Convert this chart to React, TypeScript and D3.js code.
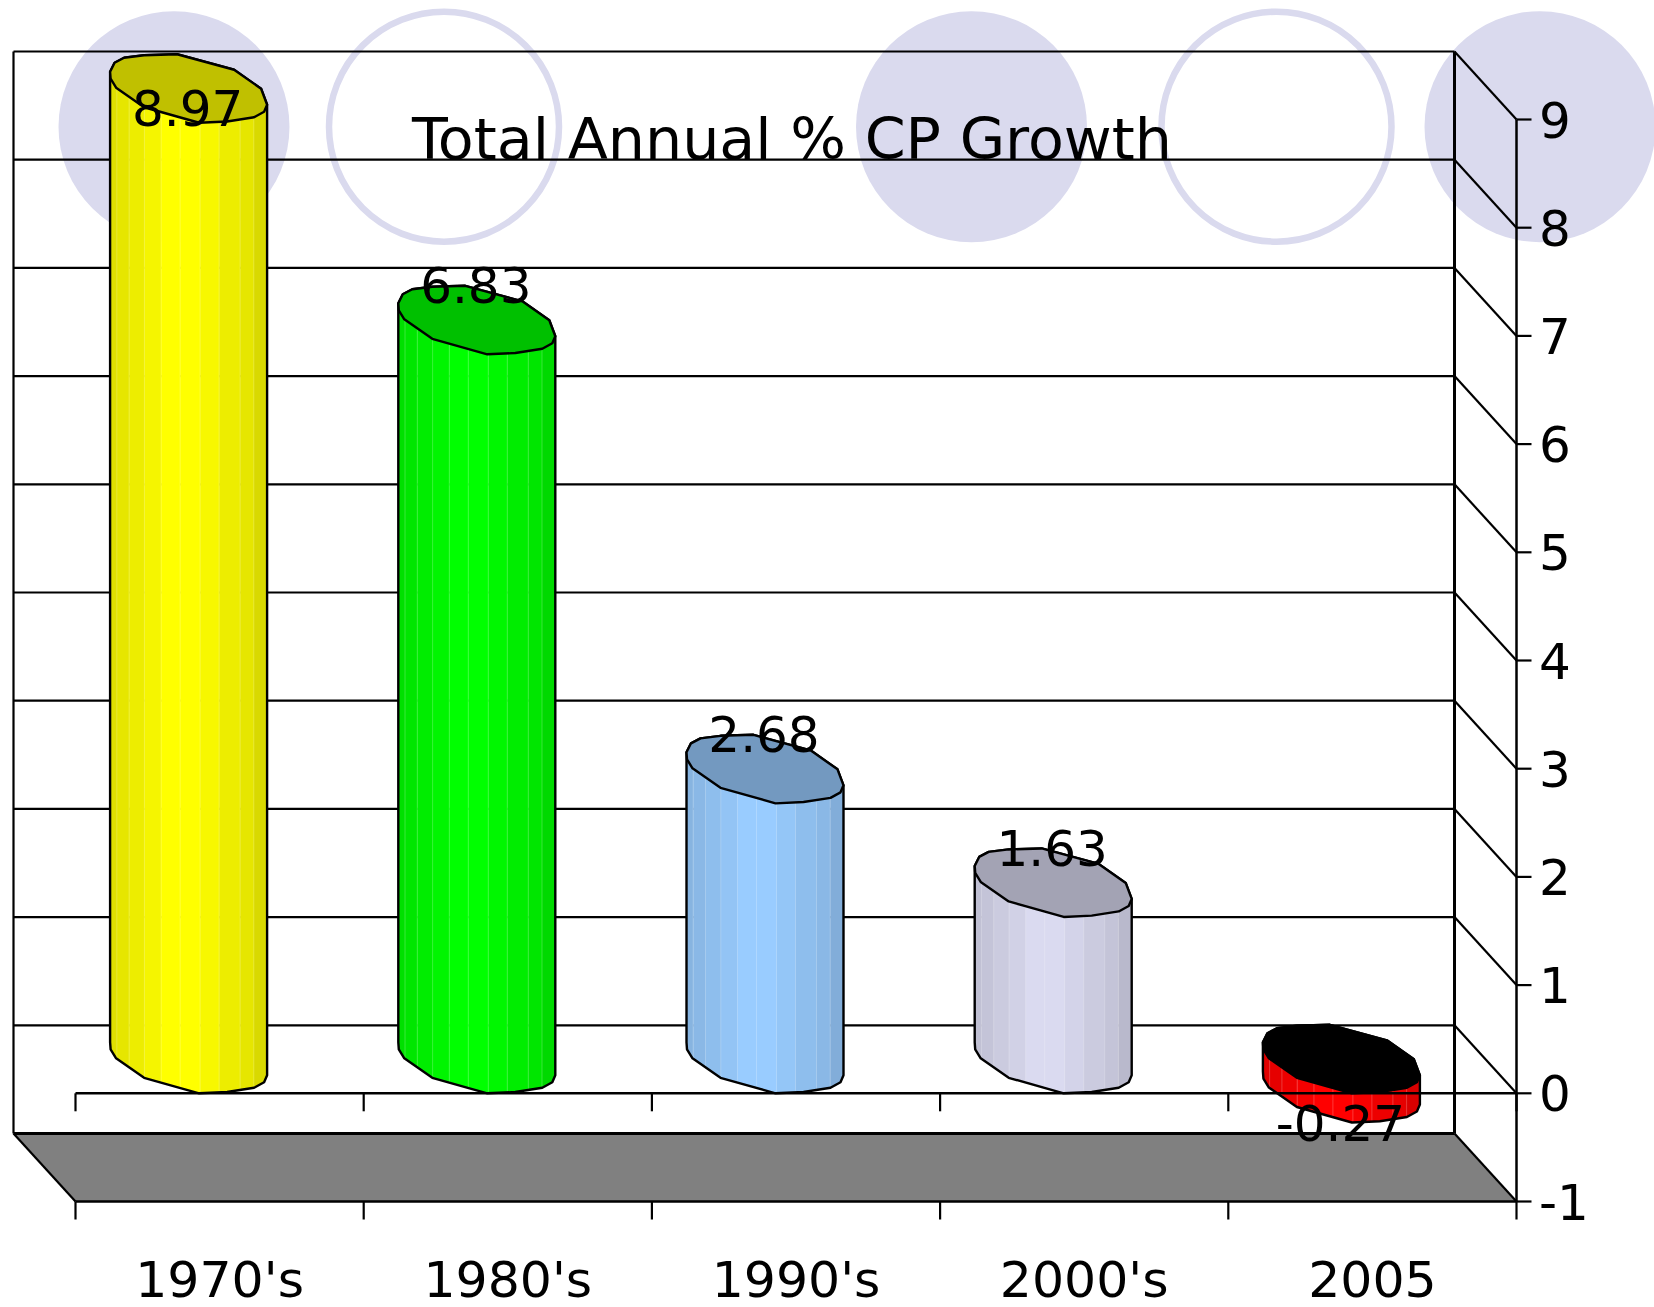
import React from 'react';
import * as d3 from 'd3';

const title = 'Total Annual % CP Growth';
const categories = ["1970's", "1980's", "1990's", "2000's", '2005'];
const growth = [8.97, 6.83, 2.68, 1.63, -0.27];
const labels = ['8.97', '6.83', '2.68', '1.63', '-0.27'];
const barColors = ['#ffff00', '#00ff00', '#99ccff', '#dadaf0', '#ff0000'];
const capColors = ['#c0c000', '#00c000', '#7399c0', '#a3a3b4', '#000000'];
const yTicks = [-1, 0, 1, 2, 3, 4, 5, 6, 7, 8, 9];

const W = 1654, H = 1307;
const DX = 62, DY = 68;
const FONT = '"DejaVu Sans", sans-serif';
const BAR_W = 157;
const decor = [
  { cx: 174, filled: true }, { cx: 444, filled: false }, { cx: 971.5, filled: true },
  { cx: 1276.5, filled: false }, { cx: 1540, filled: true },
];
// normalised outline of the bar's end cap: [x from left edge, y above front-most point]
const cap: [number, number][] = [
  [0, -51], [4.5, -60], [14, -65], [34, -67.5], [67, -68.5], [124, -53], [151, -34], [157, -18],
  [154, -11], [144, -5.5], [117, -1.3], [89, 0], [34, -15.5], [6, -35], [0.5, -44],
];
const stripEdges = [0, 6.7, 19, 34.3, 51, 70, 90, 109, 130, 143.7, 157];
const stripShade = [0.88, 0.9, 0.93, 0.96, 1, 1, 0.97, 0.93, 0.9, 0.85];

const x = d3.scaleBand<string>().domain(categories).range([75.5, 1516.5]);
const y = d3.scaleLinear().domain([-1, 9]).range([1201.5, 119.5]);
const line = d3.line();

function shade(c: string, k: number) {
  const r = d3.rgb(c);
  return d3.rgb(r.r * k, r.g * k, r.b * k).formatHex();
}

function Bar({ i }: { i: number }) {
  const v = growth[i];
  const left = x(categories[i])! + x.bandwidth() / 2 - DX / 2 - BAR_W / 2;
  const top = y(Math.max(v, 0));
  const base = y(Math.min(v, 0));
  const upper = cap.slice(0, 8).map(([a, b]) => [left + a, top + b] as [number, number]);
  const lower = cap.slice(7).concat([cap[0]]).map(([a, b]) => [left + a, base + b] as [number, number]);
  const body = line([...upper, ...lower])! + 'Z';
  const capPath = line(cap.map(([a, b]) => [left + a, top + b] as [number, number]))! + 'Z';
  const id = `body${i}`;
  return (
    <g>
      <clipPath id={id}><path d={body} /></clipPath>
      <g clipPath={`url(#${id})`}>
        {stripShade.map((k, s) => (
          <rect key={s} x={left + stripEdges[s]} y={top - 80} width={stripEdges[s + 1] - stripEdges[s] + 0.5}
            height={base - top + 90} fill={shade(barColors[i], k)} />
        ))}
        {stripEdges.slice(1, -1).map((e, s) => (
          <line key={s} x1={left + e} x2={left + e} y1={top - 80} y2={base + 10} stroke="#fff" strokeOpacity={0.22} strokeWidth={1} />
        ))}
      </g>
      <path d={body} fill="none" stroke="#000" strokeWidth={2.4} strokeLinejoin="round" />
      <path d={capPath} fill={capColors[i]} stroke="#000" strokeWidth={2.4} strokeLinejoin="round" />
    </g>
  );
}

export default function App() {
  const x0 = 75.5, x1 = 1516.5;
  const wallL = x0 - DX, wallR = x1 - DX;
  const cats = x.domain();
  const tickXs = [...cats.map((c) => x(c)!), x1];
  return (
    <svg width={W} height={H} viewBox={`0 0 ${W} ${H}`} style={{ position: 'absolute', left: 0, top: 0, background: '#fff' }}>
      {decor.map((d) => (
        <circle key={d.cx} cx={d.cx} cy={126.7} r={d.filled ? 115.5 : 115} fill={d.filled ? '#dadaee' : 'none'}
          stroke={d.filled ? 'none' : '#dadaee'} strokeWidth={6.5} />
      ))}
      <polygon points={[[wallL, y(-1) - DY], [wallR, y(-1) - DY], [x1, y(-1)], [x0, y(-1)]].join(' ')} fill="#808080" />
      {yTicks.map((t) => (
        <g key={t} stroke="#000">
          <line x1={wallL} x2={wallR} y1={y(t) - DY} y2={y(t) - DY} strokeWidth={t === -1 ? 3 : 2.2} />
          <line x1={wallR} x2={x1} y1={y(t) - DY} y2={y(t)} strokeWidth={2.2} />
          <line x1={x1} x2={x1 + 15} y1={y(t)} y2={y(t)} strokeWidth={2.2} />
        </g>
      ))}
      <line x1={wallL} x2={wallL} y1={y(9) - DY} y2={y(-1) - DY} stroke="#000" strokeWidth={2.2} />
      <line x1={wallR} x2={wallR} y1={y(9) - DY} y2={y(-1) - DY} stroke="#000" strokeWidth={3} />
      <line x1={wallL} x2={x0} y1={y(-1) - DY} y2={y(-1)} stroke="#000" strokeWidth={2.2} />
      {growth.map((_, i) => <Bar key={i} i={i} />)}
      <line x1={x0} x2={x1} y1={y(0)} y2={y(0)} stroke="#000" strokeWidth={2.4} />
      <line x1={x0} x2={x1} y1={y(-1)} y2={y(-1)} stroke="#000" strokeWidth={2.4} />
      <line x1={x1} x2={x1} y1={y(9)} y2={y(-1)} stroke="#000" strokeWidth={2.5} />
      {tickXs.map((tx) => (
        <g key={tx} stroke="#000" strokeWidth={2.2}>
          <line x1={tx} x2={tx} y1={y(0)} y2={y(0) + 18} />
          <line x1={tx} x2={tx} y1={y(-1)} y2={y(-1) + 18} />
        </g>
      ))}
      <g fontFamily={FONT} fontSize={50} fill="#000">
        {yTicks.map((t) => (
          <text key={t} x={1539} y={y(t) + 18}>{t}</text>
        ))}
        {categories.map((c) => (
          <text key={c} x={x(c)! + x.bandwidth() / 2} y={1297} textAnchor="middle" fontSize={50.5}>{c}</text>
        ))}
        {growth.map((v, i) => (
          <text key={i} x={x(categories[i])! + x.bandwidth() / 2 - DX / 2 - 1} textAnchor="middle"
            y={v < 0 ? y(v) + 18 : Math.max(126, y(v) - 51)}>{labels[i]}</text>
        ))}
        <text x={412} y={159} fontSize={57} textLength={760} lengthAdjust="spacingAndGlyphs">{title}</text>
      </g>
    </svg>
  );
}
